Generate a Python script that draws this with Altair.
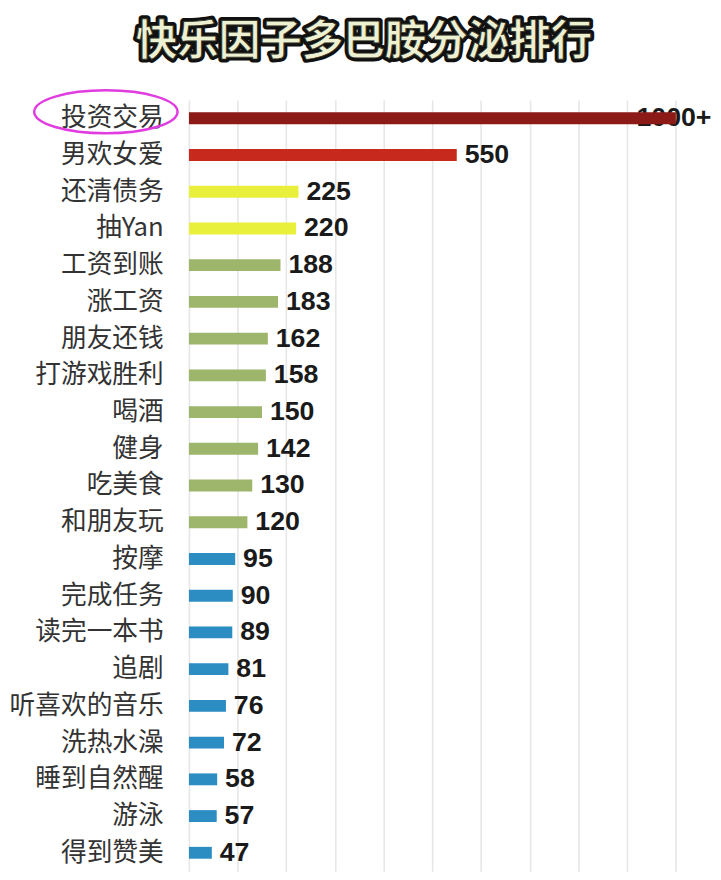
import altair as alt
import pandas as pd

# ---- data ----
categories = ["投资交易", "男欢女爱", "还清债务", "抽Yan", "工资到账", "涨工资", "朋友还钱",
              "打游戏胜利", "喝酒", "健身", "吃美食", "和朋友玩", "按摩", "完成任务",
              "读完一本书", "追剧", "听喜欢的音乐", "洗热水澡", "睡到自然醒", "游泳", "得到赞美"]
values = [1000, 550, 225, 220, 188, 183, 162, 158, 150, 142, 130, 120,
          95, 90, 89, 81, 76, 72, 58, 57, 47]
value_labels = ["1000+", "550", "225", "220", "188", "183", "162", "158", "150", "142",
                "130", "120", "95", "90", "89", "81", "76", "72", "58", "57", "47"]
tiers = ["顶级", "高", "中高", "中高"] + ["中"] * 8 + ["低"] * 9
tier_order = ["顶级", "高", "中高", "中", "低"]
tier_colors = ["#8C1A17", "#C8291D", "#E9F03C", "#9DB66B", "#2C8DC3"]
title_text = "快乐因子多巴胺分泌排行"
highlight = ["投资交易"]

df = pd.DataFrame({"name": categories, "value": values, "label": value_labels, "tier": tiers})

W, H = 522, 780

x_enc = alt.X("value:Q",
              scale=alt.Scale(domain=[0, 1060], nice=False),
              axis=alt.Axis(values=list(range(0, 1001, 100)), labels=False, ticks=False,
                            domain=False, title=None, grid=True,
                            gridColor="#e6e6e6", gridWidth=1.6))
y_enc = alt.Y("name:N", sort=categories,
              axis=alt.Axis(title=None, ticks=False, tickSize=0, domain=False,
                            labelFontSize=26, labelFont="Noto Sans CJK SC",
                            labelColor="#333333", labelPadding=26, labelLimit=0))

base = alt.Chart(df)

label_top = base.transform_filter("datum.value >= 1000").mark_text(
    align="right", baseline="middle", dx=36, font="Liberation Sans",
    fontWeight="bold", fontSize=27, color="#1a1a1a"
).encode(x=x_enc, y=y_enc, text="label:N")

bars = base.mark_bar(size=12).encode(
    x=x_enc, y=y_enc,
    color=alt.Color("tier:N", scale=alt.Scale(domain=tier_order, range=tier_colors), legend=None)
)

labels_rest = base.transform_filter("datum.value < 1000").mark_text(
    align="left", baseline="middle", dx=8, font="Liberation Sans",
    fontWeight="bold", fontSize=27, color="#1a1a1a"
).encode(x=x_enc, y=y_enc, text="label:N")

tdf = pd.DataFrame({"t": [title_text]})
title_back = alt.Chart(tdf).mark_text(
    align="center", baseline="middle", font="Noto Sans CJK SC", fontWeight="bold",
    fontSize=42, fill="#111111", stroke="#111111", strokeWidth=7, strokeJoin="round"
).encode(x=alt.value(177), y=alt.value(-58), text="t:N")
title_front = alt.Chart(tdf).mark_text(
    align="center", baseline="middle", font="Noto Sans CJK SC", fontWeight="bold",
    fontSize=42, fill="#EEF0D2", stroke="#2a2a20", strokeWidth=0.8
).encode(x=alt.value(177), y=alt.value(-58), text="t:N")

ellipse = alt.Chart(pd.DataFrame({"name": highlight})).mark_point(
    shape="M -1 0 A 1 0.3 0 1 0 1 0 A 1 0.3 0 1 0 -1 0",
    size=145 ** 2, filled=False, stroke="#E03CE0", strokeWidth=2.5, opacity=1
).encode(x=alt.value(-84), y=alt.value(12))

chart = alt.layer(label_top, bars, labels_rest, title_back, title_front, ellipse).properties(
    width=W, height=H,
    autosize=alt.AutoSizeParams(type="none"),
    padding={"left": 183, "top": 88, "right": 8, "bottom": 4},
    background="white"
).configure_view(stroke=None)

chart.save("out.html", embed_options={"renderer": "svg", "actions": False})
